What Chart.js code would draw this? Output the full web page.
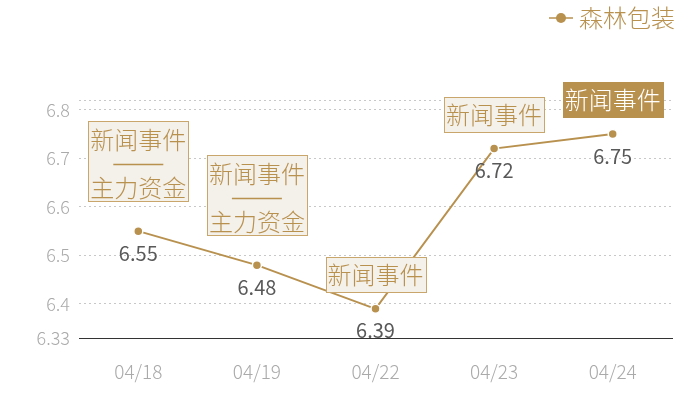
<!DOCTYPE html>
<html>
<head>
<meta charset="utf-8">
<script src="https://cdn.jsdelivr.net/npm/chart.js@4"></script>
<style>
html, body { margin: 0; padding: 0; background: #fff; }
</style>
</head>
<body>
<canvas id="priceChart" width="700" height="400"></canvas>
<script>
const dates = ['04/18', '04/19', '04/22', '04/23', '04/24'];
const prices = [6.55, 6.48, 6.39, 6.72, 6.75];
const seriesName = '森林包装';
const eventTags = [
    ['新闻事件', '主力资金'],
    ['新闻事件', '主力资金'],
    ['新闻事件'],
    ['新闻事件'],
    ['新闻事件']
];
const eventHighlight = [false, false, false, false, true];
const yTicks = [6.33, 6.4, 6.5, 6.6, 6.7, 6.8];
const yMin = 6.33;
const yMax = 6.82;

const gold = '#b8914f';
const fontName = '"Noto Sans CJK SC", "Noto Sans", sans-serif';

// 標籤框、數值與圖例
const tagPlugin = {
    id: 'tags',
    afterDatasetsDraw(chart) {
        const ctx = chart.ctx;
        const xs = chart.scales.x;
        const ys = chart.scales.y;
        ctx.save();
        ctx.textAlign = 'center';
        ctx.textBaseline = 'middle';
        prices.forEach((v, i) => {
            const x = xs.getPixelForValue(i);
            const y = ys.getPixelForValue(v);

            ctx.font = '20px ' + fontName;
            ctx.fillStyle = '#595959';
            ctx.fillText(v.toFixed(2), x, y + 22);

            const lines = eventTags[i];
            const multi = lines.length > 1;
            const w = 100;
            const h = multi ? 80 : 35;
            const top = Math.round(y - (multi ? 30 : 17) - h) + 0.5;
            const left = Math.round(x - w / 2) + 0.5;
            const hl = eventHighlight[i];

            ctx.fillStyle = hl ? gold : '#f4f0ea';
            ctx.fillRect(left, top, w, h);
            ctx.strokeStyle = hl ? gold : '#c9a66b';
            ctx.lineWidth = 1;
            ctx.strokeRect(left, top, w, h);

            ctx.font = '300 24px ' + fontName;
            ctx.fillStyle = hl ? '#ffffff' : gold;
            if (multi) {
                ctx.fillText(lines[0], x, top + 18);
                ctx.beginPath();
                ctx.moveTo(x - 25, top + 43);
                ctx.lineTo(x + 25, top + 43);
                ctx.strokeStyle = gold;
                ctx.lineWidth = 1.5;
                ctx.stroke();
                ctx.fillText(lines[1], x, top + 66);
            } else {
                ctx.fillText(lines[0], x, top + h / 2);
            }
        });

        // 圖例
        const lx = 561, ly = 18;
        ctx.beginPath();
        ctx.moveTo(lx - 12, ly);
        ctx.lineTo(lx + 12, ly);
        ctx.strokeStyle = gold;
        ctx.lineWidth = 1.5;
        ctx.stroke();
        ctx.beginPath();
        ctx.arc(lx, ly, 5, 0, Math.PI * 2);
        ctx.fillStyle = gold;
        ctx.fill();
        ctx.font = '300 24px ' + fontName;
        ctx.textAlign = 'left';
        ctx.fillText(seriesName, lx + 18, ly);
        ctx.restore();
    }
};

new Chart(document.getElementById('priceChart'), {
    type: 'line',
    data: {
        labels: dates,
        datasets: [{
            label: seriesName,
            data: prices,
            borderColor: gold,
            borderWidth: 2,
            pointRadius: 4.5,
            pointBackgroundColor: gold,
            pointBorderColor: '#ffffff',
            pointBorderWidth: 1.5,
            tension: 0
        }]
    },
    options: {
        responsive: false,
        animation: false,
        layout: { padding: { top: 100, right: 28, left: 0, bottom: 0 } },
        plugins: {
            legend: { display: false },
            tooltip: { enabled: false }
        },
        scales: {
            x: {
                offset: true,
                grid: { display: false },
                border: { display: true, color: '#333333', width: 1 },
                ticks: {
                    color: '#aaaaaa',
                    padding: 14,
                    font: { family: fontName, size: 19, weight: 300 }
                },
                afterFit(scale) { scale.height = 62; }
            },
            y: {
                min: yMin,
                max: yMax,
                border: { display: false, dash: [2, 3] },
                grid: {
                    drawTicks: false,
                    color: (c) => c.tick && c.tick.value === yMin ? 'rgba(0,0,0,0)' : '#c8c8c8'
                },
                afterBuildTicks(scale) {
                    scale.ticks = yTicks.concat([yMax]).map(v => ({ value: v }));
                },
                ticks: {
                    color: '#aaaaaa',
                    padding: 9,
                    font: { family: fontName, size: 18, weight: 300 },
                    callback: (value) => yTicks.includes(value) ? String(value) : ''
                },
                afterFit(scale) { scale.width = 79; }
            }
        }
    },
    plugins: [tagPlugin]
});
</script>
</body>
</html>
